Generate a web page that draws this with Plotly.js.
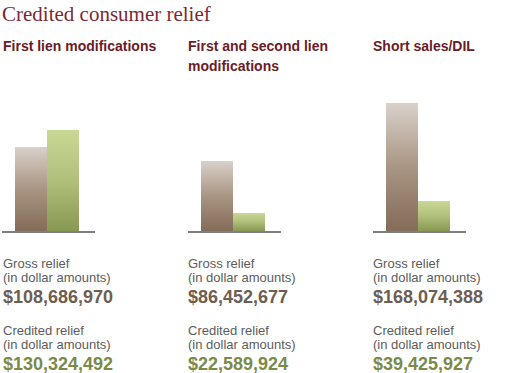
<!DOCTYPE html>
<html>
<head>
<meta charset="utf-8">
<script src="https://cdn.plot.ly/plotly-3.0.1.min.js"></script>
<style>html,body{margin:0;padding:0;background:#fff;}#chart{width:520px;height:373px;}</style>
</head>
<body>
<div id="chart"></div>
<script>
// ---- data ----
const chartTitle = "Credited consumer relief";
const categories = ["First lien modifications", "First and second lien<br>modifications", "Short sales/DIL"];
const seriesNames = ["Gross relief", "Credited relief"];
const grossRelief = [108686970, 86452677, 168074388];
const creditedRelief = [130324492, 22589924, 39425927];
const amountNote = "(in dollar amounts)";

// ---- layout helpers (pixel -> paper) ----
const W = 520, H = 373;
const px = x => x / W;
const py = y => 1 - y / H;
const panelLeft = [2, 188, 373];
const panelWidth = 93;
const textLeft = [1, 186, 371];
const baseY = 231, topY = 91;
const yMax = [181e6, 173e6, 184e6];

const brown = "#8a7360", green = "#8d9c5a";
const fmt = v => "$" + v.toLocaleString("en-US");
const sans = "Liberation Sans, Arial, sans-serif";

const data = [];
const layout = {
  width: W, height: H,
  margin: {l: 0, r: 0, t: 0, b: 0},
  paper_bgcolor: "#fff", plot_bgcolor: "rgba(0,0,0,0)",
  showlegend: false, bargap: 0,
  font: {family: sans},
  annotations: [], shapes: []
};

categories.forEach((cat, i) => {
  const s = i === 0 ? "" : String(i + 1);
  data.push({
    type: "bar",
    x: seriesNames,
    y: [grossRelief[i], creditedRelief[i]],
    xaxis: "x" + s, yaxis: "y" + s,
    marker: {color: [brown, green], line: {width: 0}},
    width: 1,
    hoverinfo: "skip"
  });
  layout["xaxis" + s] = {
    domain: [px(panelLeft[i]), px(panelLeft[i] + panelWidth)],
    anchor: "y" + s,
    type: "category",
    range: [-0.92, 1.99],
    showgrid: false, zeroline: false, showticklabels: false, ticks: "",
    showline: true, linecolor: "#7f7f7f", linewidth: 1.5, fixedrange: true
  };
  layout["yaxis" + s] = {
    domain: [py(baseY), py(topY)],
    anchor: "x" + s,
    range: [0, yMax[i]],
    visible: false, fixedrange: true
  };
  // panel heading, one annotation per line
  cat.split("<br>").forEach((ln, k) => {
    layout.annotations.push({
      xref: "paper", yref: "paper", x: px(textLeft[i]), y: py(46.5 + 19 * k),
      xanchor: "left", yanchor: "middle", showarrow: false,
      text: "<b>" + ln + "</b>",
      font: {family: sans, size: 14, color: "#6a1c26"}
    });
  });
  const lines = [
    [263, seriesNames[0], 13, "#5c5c5c", false],
    [277.5, amountNote, 13, "#5c5c5c", false],
    [296.5, fmt(grossRelief[i]), 18, "#6e5d50", true],
    [330, seriesNames[1], 13, "#5c5c5c", false],
    [344.5, amountNote, 13, "#5c5c5c", false],
    [363.5, fmt(creditedRelief[i]), 18, "#7b8a48", true]
  ];
  lines.forEach(([y, t, sz, col, b]) => {
    layout.annotations.push({
      xref: "paper", yref: "paper", x: px(textLeft[i]), y: py(y),
      xanchor: "left", yanchor: "middle", showarrow: false,
      text: b ? "<b>" + t + "</b>" : t,
      font: {family: sans, size: sz, color: col}
    });
  });
});

layout.annotations.push({
  xref: "paper", yref: "paper", x: px(0), y: py(0),
  xanchor: "left", yanchor: "top", showarrow: false,
  text: chartTitle,
  font: {family: "Liberation Serif, Georgia, serif", size: 21, color: "#7a2a36"}
});

Plotly.newPlot("chart", data, layout, {staticPlot: true, displayModeBar: false}).then(gd => {
  const svg = gd.querySelector("svg.main-svg");
  const NS = "http://www.w3.org/2000/svg";
  let defs = svg.querySelector("defs");
  if (!defs) { defs = document.createElementNS(NS, "defs"); svg.insertBefore(defs, svg.firstChild); }
  const mk = (id, stops) => {
    const g = document.createElementNS(NS, "linearGradient");
    g.setAttribute("id", id);
    g.setAttribute("x1", "0"); g.setAttribute("y1", "0");
    g.setAttribute("x2", "0"); g.setAttribute("y2", "1");
    stops.forEach(([o, c]) => {
      const st = document.createElementNS(NS, "stop");
      st.setAttribute("offset", o); st.setAttribute("stop-color", c);
      g.appendChild(st);
    });
    defs.appendChild(g);
  };
  mk("gGross", [["0", "#d9d1ca"], ["0.5", "#a99583"], ["1", "#836c58"]]);
  mk("gCred", [["0", "#c9d894"], ["0.5", "#b0c07b"], ["1", "#879852"]]);
  gd.querySelectorAll(".trace.bars").forEach(tr => {
    tr.querySelectorAll(".point path").forEach((p, j) => {
      p.style.fill = j === 0 ? "url(#gGross)" : "url(#gCred)";
    });
  });
});
</script>
</body>
</html>
